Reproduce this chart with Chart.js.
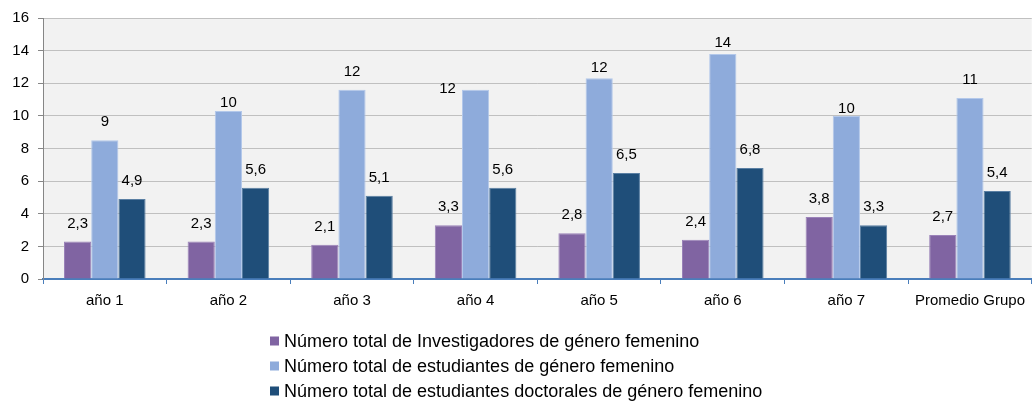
<!DOCTYPE html>
<html>
<head>
<meta charset="utf-8">
<script src="https://cdn.jsdelivr.net/npm/chart.js@4"></script>
<style>
  html, body { margin: 0; padding: 0; background: #fff; }
  #wrap { width: 1033px; height: 402px; position: relative; }
</style>
</head>
<body>
<div id="wrap"><canvas id="chart" width="1033" height="402"></canvas></div>
<script>
// Datos del grafico
const categorias = ['año 1', 'año 2', 'año 3', 'año 4', 'año 5', 'año 6', 'año 7', 'Promedio Grupo'];
const investigadoras = [2.3, 2.3, 2.1, 3.3, 2.8, 2.4, 3.8, 2.7];
const estudiantes = [8.5, 10.3, 11.6, 11.6, 12.3, 13.8, 10.0, 11.1];
const doctorales = [4.9, 5.6, 5.1, 5.6, 6.5, 6.8, 3.3, 5.4];
const yTicks = [0, 2, 4, 6, 8, 10, 12, 14, 16];

const fontName = '"Liberation Sans", Arial, sans-serif';

// fondo gris del area del grafico
const plotBackground = {
  id: 'plotBackground',
  beforeDraw(chart) {
    const a = chart.chartArea;
    const ctx = chart.ctx;
    ctx.save();
    ctx.fillStyle = '#f2f2f2';
    ctx.fillRect(a.left, a.top, a.right - a.left, a.bottom - a.top);
    ctx.restore();
  }
};

// etiquetas de valores encima de las barras
const valueLabels = {
  id: 'valueLabels',
  afterDatasetsDraw(chart, args, opts) {
    const ctx = chart.ctx;
    ctx.save();
    ctx.font = '15px ' + fontName;
    ctx.fillStyle = '#000';
    ctx.textAlign = 'center';
    ctx.textBaseline = 'middle';
    chart.data.datasets.forEach((ds, di) => {
      const meta = chart.getDatasetMeta(di);
      meta.data.forEach((bar, i) => {
        let v = ds.data[i];
        let txt = ds.decimals === 0 ? Math.round(v).toString() : v.toFixed(1).replace('.', ',');
        let dx = 0, dy = 18;
        const sh = (opts.shifts[di] || {})[i];
        if (sh) { dx = sh[0]; dy = sh[1]; }
        ctx.fillText(txt, bar.x + dx, bar.y - dy);
      });
    });
    ctx.restore();
  }
};

// leyenda vertical debajo del grafico
const bottomLegend = {
  id: 'bottomLegend',
  afterDraw(chart) {
    const ctx = chart.ctx;
    ctx.save();
    ctx.font = '18px ' + fontName;
    ctx.textBaseline = 'middle';
    chart.data.datasets.forEach((ds, i) => {
      const y = 341 + i * 25;
      ctx.fillStyle = ds.backgroundColor;
      ctx.fillRect(270, y - 4.5, 9, 9);
      ctx.fillStyle = '#000';
      ctx.fillText(ds.label, 284, y + 1);
    });
    ctx.restore();
  }
};

new Chart(document.getElementById('chart'), {
  type: 'bar',
  data: {
    labels: categorias,
    datasets: [{
      label: 'Número total de Investigadores de género femenino',
      data: investigadoras,
      backgroundColor: '#8064a2',
      borderColor: '#9a82b8',
      borderWidth: 1,
      decimals: 1
    }, {
      label: 'Número total de estudiantes de género femenino',
      data: estudiantes,
      backgroundColor: '#8eabdb',
      borderColor: '#b3c8ea',
      borderWidth: 1,
      decimals: 0
    }, {
      label: 'Número total de estudiantes doctorales de género femenino',
      data: doctorales,
      backgroundColor: '#1f4e79',
      borderColor: '#5a7fa3',
      borderWidth: 1,
      decimals: 1
    }]
  },
  options: {
    responsive: false,
    animation: false,
    categoryPercentage: 0.66,
    barPercentage: 1.0,
    layout: { padding: { top: 15, right: 0, left: 0, bottom: 0 } },
    plugins: {
      legend: { display: false },
      tooltip: { enabled: false },
      valueLabels: {
        shifts: {
          1: { 1: [0, 8], 3: [-28, 1], 4: [0, 10], 5: [0, 11], 6: [0, 7] }
        }
      }
    },
    scales: {
      x: {
        grid: {
          display: true,
          drawOnChartArea: false,
          drawTicks: true,
          tickLength: 5,
          color: '#4a7ebb',
          offset: true
        },
        border: { display: true, color: '#4a7ebb', width: 2 },
        ticks: {
          color: '#000',
          font: { family: fontName, size: 15 },
          padding: 8
        },
        afterFit(scale) { scale.height = 123; }
      },
      y: {
        min: 0,
        max: 16,
        afterBuildTicks(scale) { scale.ticks = yTicks.map(v => ({ value: v })); },
        grid: {
          color: '#c0c0c0',
          lineWidth: 1,
          tickLength: 5,
          tickColor: '#868686'
        },
        border: { display: true, color: '#868686', width: 1 },
        ticks: {
          color: '#000',
          font: { family: fontName, size: 15 },
          padding: 9
        },
        afterFit(scale) { scale.width = 43; }
      }
    }
  },
  plugins: [plotBackground, valueLabels, bottomLegend]
});
</script>
</body>
</html>
